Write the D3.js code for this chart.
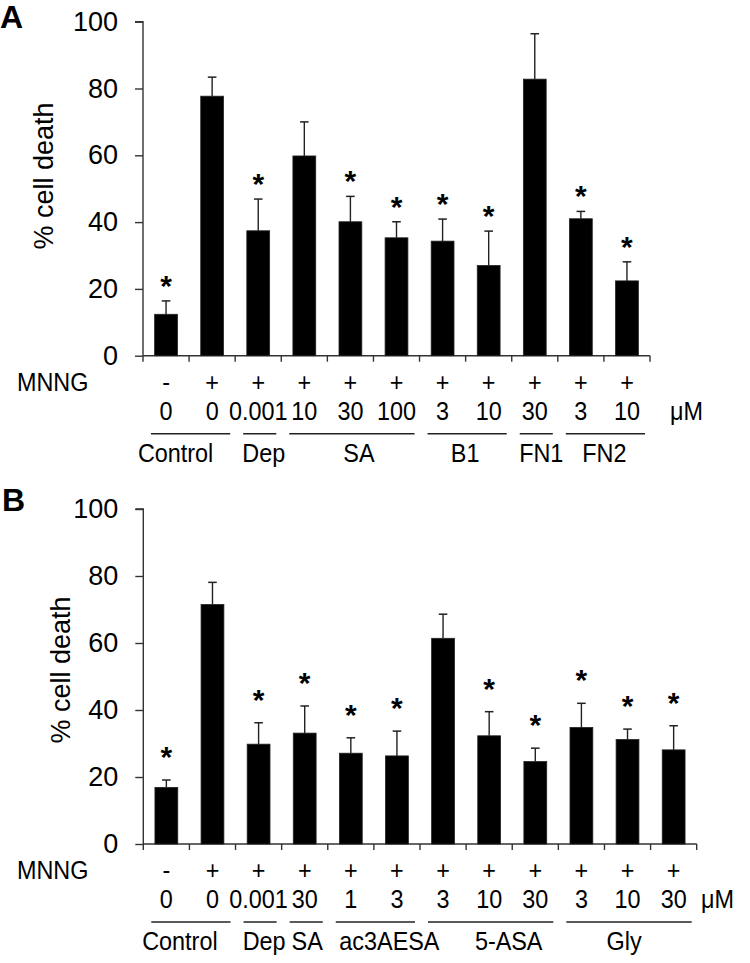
<!DOCTYPE html>
<html>
<head>
<meta charset="utf-8">
<script src="https://cdn.jsdelivr.net/npm/d3@7"></script>
<style>
  html, body { margin: 0; padding: 0; background: #fff; }
  svg { display: block; }
  text { font-family: "Liberation Sans", Arial, sans-serif; fill: #000; }
</style>
</head>
<body>
<svg id="chart" width="750" height="963"></svg>
<script>
// ---------- Panel A data ----------
const mnngA = ["-", "+", "+", "+", "+", "+", "+", "+", "+", "+", "+"];
const doseA = ["0", "0", "0.001", "10", "30", "100", "3", "10", "30", "3", "10"];
const valuesA = [12.4, 77.7, 37.4, 59.8, 40.1, 35.3, 34.3, 27.0, 82.8, 41.0, 22.4];
const errorsA = [4.0, 5.7, 9.5, 10.2, 7.6, 4.8, 6.6, 10.3, 13.6, 2.2, 5.7];
const sigA = [true, false, true, false, true, true, true, true, false, true, true];
const groupLabelsA = ["Control", "Dep", "SA", "B1", "FN1", "FN2"];
const groupSizesA = [2, 1, 3, 2, 1, 2];

// ---------- Panel B data ----------
const mnngB = ["-", "+", "+", "+", "+", "+", "+", "+", "+", "+", "+", "+"];
const doseB = ["0", "0", "0.001", "30", "1", "3", "3", "10", "30", "3", "10", "30"];
const valuesB = [16.9, 71.5, 29.8, 33.1, 27.1, 26.3, 61.4, 32.3, 24.6, 34.8, 31.2, 28.1];
const errorsB = [2.2, 6.6, 6.4, 8.1, 4.6, 7.4, 7.2, 7.2, 4.0, 7.2, 3.1, 7.2];
const sigB = [true, false, true, true, true, true, false, true, true, true, true, true];
const groupLabelsB = ["Control", "Dep", "SA", "ac3AESA", "5-ASA", "Gly"];
const groupSizesB = [2, 1, 1, 2, 3, 3];

const yTicks = [0, 20, 40, 60, 80, 100];
const yTitle = "% cell death";
const rowLabel = "MNNG";
const unitLabel = "\u03bcM";

const svg = d3.select("#chart");
const AXIS = "#333";
const ROW_FS = 26, ROW_SX = 0.9;

function rowText(sel, xf, yv, anchor) {
  return sel.attr("transform", (d, i) => `translate(${typeof xf === "function" ? xf(d, i) : xf},${yv}) scale(${ROW_SX},1)`)
    .attr("text-anchor", anchor).style("font-size", ROW_FS + "px");
}

function drawPanel(cfg) {
  const g = svg.append("g");
  const n = cfg.values.length;
  const idx = d3.range(n);
  const x = d3.scaleBand().domain(idx).range([cfg.x0, cfg.x1]).paddingInner(0.505).paddingOuter(0.2525);
  const y = d3.scaleLinear().domain([0, 100]).range([cfg.yBottom, cfg.yTop]);
  const step = x.step();
  const edge = i => cfg.x0 + i * step;

  // panel letter
  g.append("text").attr("x", cfg.letterX).attr("y", cfg.letterY)
    .style("font-size", "32px").style("font-weight", "bold").text(cfg.letter);

  // y axis
  const yAxis = d3.axisLeft(y).tickValues(yTicks).tickSize(8).tickPadding(17).tickFormat(d3.format("d"));
  const ya = g.append("g").attr("transform", `translate(${cfg.x0},0)`).call(yAxis);
  ya.select(".domain").attr("stroke", AXIS).attr("stroke-width", 1.4).attr("d", `M-8,${y(100)}H0V${y(0)}`);
  ya.selectAll(".tick line").attr("stroke", AXIS).attr("stroke-width", 1.4);
  ya.selectAll(".tick text").style("font-size", "27px").style("font-family", '"Liberation Sans", Arial, sans-serif').attr("fill", "#000");

  // y title
  g.append("text").attr("transform", `translate(${cfg.titleX},${cfg.titleY}) rotate(-90)`)
    .attr("text-anchor", "middle").style("font-size", "27px").text(yTitle);

  // x axis line + ticks at band boundaries
  g.append("line").attr("x1", cfg.x0).attr("x2", cfg.x1).attr("y1", y(0)).attr("y2", y(0))
    .attr("stroke", AXIS).attr("stroke-width", 1.4);
  g.selectAll(".xtick").data(d3.range(n + 1)).join("line")
    .attr("x1", i => edge(i)).attr("x2", i => edge(i))
    .attr("y1", y(0)).attr("y2", y(0) + 6)
    .attr("stroke", AXIS).attr("stroke-width", 1.4);

  // bars
  g.selectAll(".bar").data(idx).join("rect")
    .attr("x", i => x(i)).attr("width", x.bandwidth())
    .attr("y", i => y(cfg.values[i])).attr("height", i => y(0) - y(cfg.values[i]))
    .attr("fill", "#000").attr("stroke", "#222").attr("stroke-width", 0.8);

  // error bars
  const cx = i => x(i) + x.bandwidth() / 2;
  g.selectAll(".err").data(idx).join("line")
    .attr("x1", cx).attr("x2", cx)
    .attr("y1", i => y(cfg.values[i])).attr("y2", i => y(cfg.values[i] + cfg.errors[i]))
    .attr("stroke", "#222").attr("stroke-width", 1.4);
  g.selectAll(".cap").data(idx).join("line")
    .attr("x1", i => cx(i) - 4.3).attr("x2", i => cx(i) + 4.3)
    .attr("y1", i => y(cfg.values[i] + cfg.errors[i])).attr("y2", i => y(cfg.values[i] + cfg.errors[i]))
    .attr("stroke", "#222").attr("stroke-width", 1.5);

  // significance stars
  g.selectAll(".star").data(idx.filter(i => cfg.sig[i])).join("text")
    .attr("x", cx).attr("y", i => y(cfg.values[i] + cfg.errors[i]) - cfg.starGap + 18)
    .attr("text-anchor", "middle").style("font-size", "30px").style("font-weight", "bold").text("*");

  // MNNG row
  const base = y(0);
  rowText(g.append("text"), cfg.rowLabelX, base + 35, "start").text(rowLabel);
  rowText(g.selectAll(".sign").data(idx).join("text"), d => cx(d), base + 35, "middle")
    .text(i => cfg.mnng[i]);

  // dose row
  rowText(g.selectAll(".dose").data(idx).join("text"), d => cx(d), base + 64, "middle")
    .text(i => cfg.dose[i]);
  rowText(g.append("text"), cfg.unitX, base + 64, "start").text(unitLabel);

  // group lines + labels
  let start = 0;
  const groups = cfg.groupLabels.map((lab, k) => {
    const gr = { label: lab, a: start, b: start + cfg.groupSizes[k], k: k };
    start += cfg.groupSizes[k];
    return gr;
  });
  g.selectAll(".gline").data(groups).join("line")
    .attr("x1", d => edge(d.a) + 8).attr("x2", d => edge(d.b) - 5)
    .attr("y1", base + 78).attr("y2", base + 78)
    .attr("stroke", "#222").attr("stroke-width", 1.5);
  rowText(g.selectAll(".glabel").data(groups).join("text"),
    d => (edge(d.a) + 8 + edge(d.b) - 5) / 2 + cfg.labelNudge[d.k], base + 106, "middle")
    .text(d => d.label);
}

drawPanel({
  letter: "A", letterX: 0, letterY: 28,
  values: valuesA, errors: errorsA, sig: sigA, mnng: mnngA, dose: doseA,
  groupLabels: groupLabelsA, groupSizes: groupSizesA,
  x0: 143, x1: 650, yTop: 21.7, yBottom: 355.7,
  titleX: 53, titleY: 176, starGap: 23, rowLabelX: 17, unitX: 670,
  labelNudge: [-15, 4, 7, -2, 5, -1]
});

drawPanel({
  letter: "B", letterX: 2, letterY: 511,
  values: valuesB, errors: errorsB, sig: sigB, mnng: mnngB, dose: doseB,
  groupLabels: groupLabelsB, groupSizes: groupSizesB,
  x0: 143.3, x1: 696.7, yTop: 509, yBottom: 844,
  titleX: 70, titleY: 670, starGap: 31, rowLabelX: 17, unitX: 701,
  labelNudge: [-11, 4, 1, 14, 18, -5]
});
</script>
</body>
</html>
